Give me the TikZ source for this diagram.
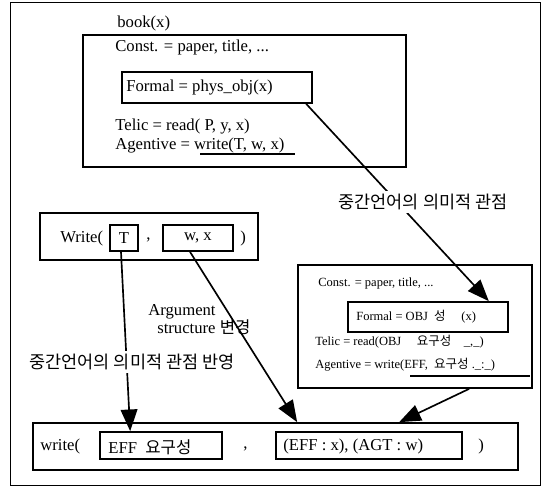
\documentclass[tikz,border=0pt]{standalone}
\usepackage{fontspec}
\setmainfont{Liberation Serif}
\newfontfamily\kr{Noto Sans CJK KR}
\usetikzlibrary{arrows.meta,fit,calc}

\begin{document}
\begin{tikzpicture}[x=0.6pt,y=-0.6pt,
  box/.style={draw,line width=1pt,inner sep=0pt},
  txt/.style={anchor=west,inner sep=0pt,font=\fontsize{10}{12}\selectfont},
  small/.style={anchor=west,inner sep=0pt,font=\fontsize{7.5}{9}\selectfont},
  bigarrow/.style={line width=1pt,-{Triangle[length=13pt,width=10pt]}},
  gap/.style={fill=white,inner sep=2pt,font=\fontsize{10.5}{12}\selectfont\kr}]
\useasboundingbox (0,0) rectangle (547,487);
\draw [line width=0.6pt] (10,3) rectangle (540,485);
\node [txt] (bookT) at (117,23) {book(x)};
\node [box,fit={(83,35) (406,167)}] (qbook) {};
\node [txt] (constA) at (115,47) {Const. = paper, title, ...};
\node [box,fit={(122,72) (312,103)}] (formalA) {};
\node [txt] at (126,88) {Formal = phys\_obj(x)};
\node [txt] (telicA) at (115,127) {Telic = read( P, y, x)};
\node [txt] (agentA) at (115,146) {Agentive = write(T, w, x)};
\draw [line width=0.8pt] (200,154) -- (295,154);
\node [box,fit={(40,213) (258,260)}] (event) {};
\node [txt] at (60,238) {Write(};
\node [box,fit={(110,225) (138,251)}] (argT) {};
\node [txt,anchor=center] at (argT) {T};
\node [txt] at (146,240) {,};
\node [box,fit={(163,225) (233,251)}] (argWx) {};
\node [txt,anchor=center] at (argWx) {w, x};
\node [txt] at (240,238) {)};
\node [box,fit={(298,265) (532,388)}] (qwrite) {};
\node [small] (constB) at (318,283) {Const. = paper, title, ...};
\node [box,fit={(348,302) (508,332)}] (formalB) {};
\node [small] at (356,317) {Formal = OBJ\enspace{\kr 성}\quad\ (x)};
\node [small] (telicB) at (315,342) {Telic = read(OBJ\quad\ {\kr 요구성}\quad \_,\_)};
\node [small] (agentB) at (315,365) {Agentive = write(EFF,\ \ {\kr 요구성}\ .\_:\_)};
\draw [line width=0.8pt] (410,376) -- (530,376);
\node [box,fit={(33,423) (518,470)}] (eventB) {};
\node [txt] at (40,446) {write(};
\node [box,fit={(100,432) (222,459)}] (argEff) {};
\node [txt] at (108,447) {EFF\enspace{\kr 요구성}};
\node [txt] at (243,449) {,};
\node [box,fit={(276,432) (462,459)}] (argEv) {};
\node [txt] at (283,446) {(EFF : x), (AGT : w)};
\node [txt] at (478,446) {)};
\draw [bigarrow] ([xshift=-4pt]formalA.south east) -- ([xshift=-12pt]formalB.north east);
\draw [bigarrow] ($(argT.south)+(-3,0)$) -- ($(argEff.north west)+(31,0)$);
\draw [bigarrow] ($(argWx.south)+(-8,0)$) -- ($(eventB.north west)+(265,0)$);
\draw [bigarrow] ($(qwrite.south west)+(172,0)$) -- ($(eventB.north west)+(367,0)$);
\node [gap] (viewA) at (423,202) {중간언어의 의미적 관점};
\node [gap] (viewB) at (132,362) {중간언어의 의미적 관점 반영};
\node [txt] (argA) at (148,312) {Argument};
\node [txt] (argB) at (157,327) {structure {\kr 변경}};
\end{tikzpicture}
\end{document}
